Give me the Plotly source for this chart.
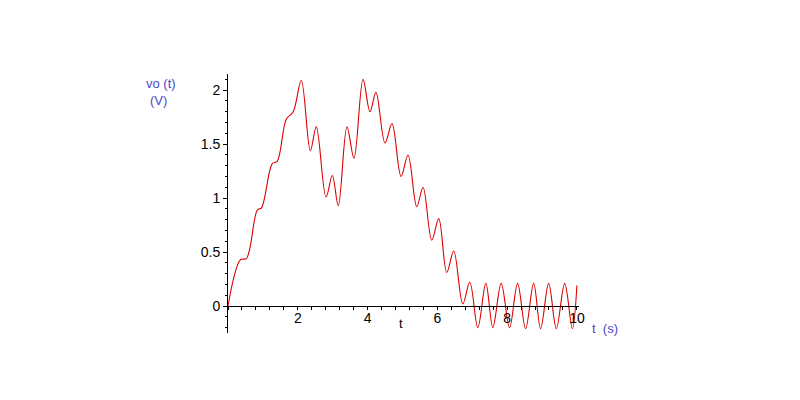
import plotly.graph_objects as go

# values (extrema / plateau points)
t_vals = [0.0, 0.36, 0.53, 0.84, 0.96, 1.27, 1.41, 1.67, 1.87, 2.10, 2.36, 2.53,
          2.81, 2.99, 3.16, 3.41, 3.61, 3.87, 4.07, 4.24, 4.50, 4.70, 4.96, 5.16,
          5.41, 5.59, 5.84, 6.04, 6.27, 6.47, 6.73, 6.93, 7.16, 7.39, 7.59, 7.83,
          8.07, 8.30, 8.53, 8.76, 8.96, 9.19, 9.41, 9.65, 9.87, 10.0]
vo_vals = [0.0, 0.43, 0.44, 0.89, 0.91, 1.32, 1.34, 1.73, 1.80, 2.09, 1.44, 1.66,
           1.01, 1.21, 0.93, 1.66, 1.37, 2.10, 1.80, 1.98, 1.51, 1.69, 1.20, 1.40,
           0.92, 1.10, 0.61, 0.81, 0.31, 0.51, 0.02, 0.22, -0.20, 0.21, -0.20, 0.21,
           -0.20, 0.21, -0.21, 0.21, -0.21, 0.21, -0.21, 0.21, -0.21, 0.19]

x_ticks = [2, 4, 6, 8, 10]
y_ticks = [0, 0.5, 1, 1.5, 2]
y_tick_text = ["0", "0.5", "1", "1.5", "2"]

OFF = 8  # page body margin
L, T = 227.5 - OFF, 74 - OFF
PW, PH = 352, 259
W, H = 800, 400

fig = go.Figure()
fig.add_trace(go.Scatter(x=t_vals, y=vo_vals, mode="lines",
                         line=dict(color="#dc0000", width=1.1, shape="spline", smoothing=1.0),
                         hoverinfo="skip", showlegend=False))

FONT = "Liberation Sans, Arial, sans-serif"
tick_font = dict(family=FONT, size=14, color="black")
blue = "#4848d0"

fig.update_layout(
    width=W, height=H,
    margin=dict(l=L, r=W - L - PW, t=T, b=H - T - PH, autoexpand=False),
    paper_bgcolor="white", plot_bgcolor="white",
    xaxis=dict(range=[0, 10.06], showgrid=False, zeroline=False,
               showline=True, linecolor="black", linewidth=1,
               anchor="free", position=0.25 / 2.4,
               tickvals=x_ticks, ticks="outside", ticklen=3, tickcolor="black",
               tickfont=tick_font, ticklabelstandoff=-4,
               minor=dict(dtick=0.4, tick0=0, ticks="outside", ticklen=3, tickcolor="black")),
    yaxis=dict(range=[-0.25, 2.15], showgrid=False, zeroline=False,
               showline=True, linecolor="black", linewidth=1,
               tickvals=y_ticks, ticktext=y_tick_text, ticks="outside", ticklen=4,
               tickcolor="black", tickfont=tick_font,
               minor=dict(dtick=0.1, tick0=0, ticks="outside", ticklen=2, tickcolor="black")),
)

# annotations given in screen pixels of the reference
labels = [
    ("vo (t)", 160, 92, "bottom", blue, 13),
    ("(V)", 158, 92, "top", blue, 13),
    ("t  (s)", 606, 328, "middle", blue, 13),
    ("t", 401, 323, "middle", "black", 13),
]
anns = []
for text, sx, sy, ya, col, fs in labels:
    fx, fy = sx - OFF, sy - OFF
    anns.append(dict(text=text, x=(fx - L) / PW, y=(T + PH - fy) / PH,
                     xref="paper", yref="paper", showarrow=False,
                     xanchor="center", yanchor=ya, borderpad=0,
                     font=dict(family=FONT, size=fs, color=col)))
fig.update_layout(annotations=anns)

fig.write_html("out.html")
